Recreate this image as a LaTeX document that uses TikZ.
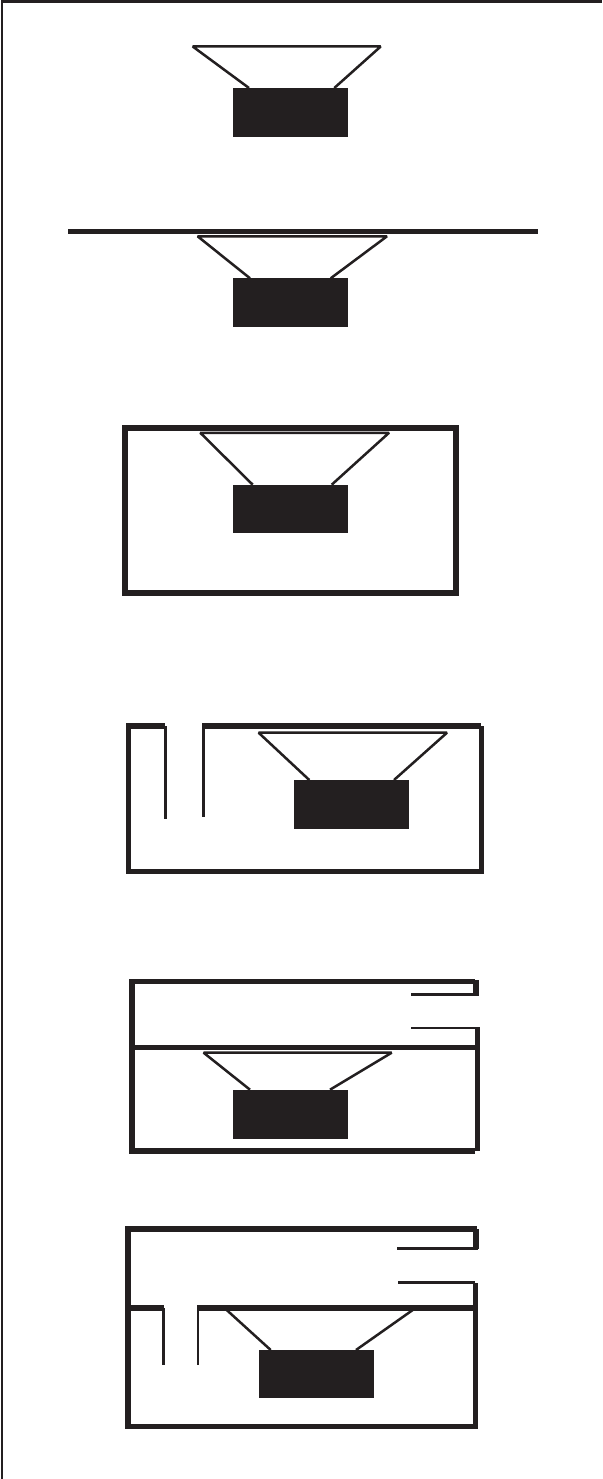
\documentclass[tikz,border=0pt]{standalone}
\definecolor{ink}{HTML}{231F20}
\tikzset{
  wall/.style={draw=ink,line width=5.4pt,line cap=butt,line join=miter},
  port/.style={draw=ink,line width=2.7pt,line cap=butt},
  cone/.style={draw=ink,line width=2.5pt,line join=bevel,line cap=butt},
  magnet/.style={fill=ink,draw=none},
  frameline/.style={draw=ink,line width=2.8pt}
}
\begin{document}
\begin{tikzpicture}[x=1pt,y=-1pt]
\useasboundingbox (0,0) rectangle (602,1479);
\fill[white] (0,0) rectangle (602,1479);
% outer frame (top and left only)
\draw[frameline] (2,1479) -- (2,1.2) -- (602,1.2);
% 1: bare driver
\fill[magnet] (232.7,88) rectangle (348.3,136.7);
\draw[cone] (249,88) -- (192.7,46.5) -- (380.7,46.5) -- (334.3,88);
% 2: open baffle
\draw[wall] (68,231.3) -- (537.7,231.3);
\fill[magnet] (232.7,278.3) rectangle (348.3,327.3);
\draw[cone] (250,278.3) -- (197.6,236.3) -- (387,236.3) -- (330.7,278.3);
% 3: sealed box
\draw[wall] (124.8,427.8) rectangle (455.8,592.8);
\fill[magnet] (232.7,484.7) rectangle (348.3,533.3);
\draw[cone] (252.7,484.7) -- (200.3,432.8) -- (389,432.8) -- (331.7,484.7);
% 4: bass reflex
\draw[wall] (165.3,726) -- (128.5,726) -- (128.5,871.3) -- (481,871.3);
\draw[wall] (481.5,726) -- (481.5,874.3);
\draw[wall] (202.3,726) -- (480.7,726);
\draw[port] (165.7,726) -- (165.7,818.7);
\draw[port] (203.3,726) -- (203.3,816.7);
\fill[magnet] (293.7,780) rectangle (409.3,828.7);
\draw[cone] (309.3,780) -- (258.6,732.7) -- (447,732.7) -- (394,780);
% 5: bandpass, single port
\draw[wall] (475,981.7) -- (131.8,981.7) -- (131.8,1151) -- (475,1151);
\draw[wall] (476,980) -- (476,996);
\draw[wall] (477.3,1027) -- (477.3,1151);
\draw[port] (411,994.7) -- (476,994.7);
\draw[port] (411,1028) -- (476,1028);
\draw[wall] (135.3,1047.5) -- (475,1047.5);
\fill[magnet] (232.7,1089.7) rectangle (348.3,1138.7);
\draw[cone] (250,1089.7) -- (203.6,1052.7) -- (391.7,1052.7) -- (330,1089.7);
% 6: bandpass, two ports
\draw[wall] (477,1229) -- (128,1229) -- (128,1426.7) -- (475.2,1426.7);
\draw[wall] (476,1229) -- (476,1249.3);
\draw[wall] (475.2,1283.3) -- (475.2,1429);
\draw[port] (397,1248.7) -- (478,1248.7);
\draw[port] (398.3,1282.3) -- (475,1282.3);
\draw[wall] (128,1308) -- (164.3,1308);
\draw[wall] (197.3,1308) -- (475,1308);
\draw[port] (163.3,1308) -- (163.3,1364.7);
\draw[port] (198,1308) -- (198,1364.7);
\fill[magnet] (258.7,1350) rectangle (374.3,1398.3);
\draw[cone] (270.7,1350) -- (226.7,1310);
\draw[cone] (412.7,1310) -- (356,1350);
\end{tikzpicture}
\end{document}
